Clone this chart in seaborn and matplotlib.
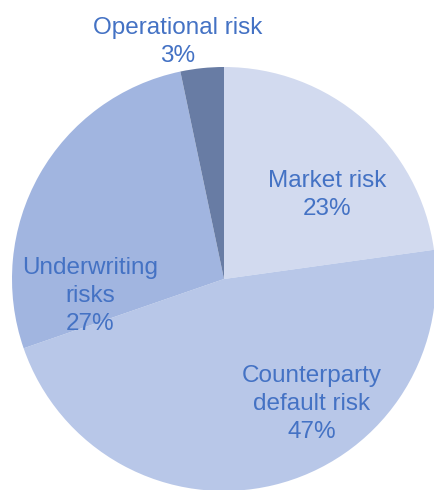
import matplotlib
matplotlib.use("Agg")
import matplotlib.pyplot as plt
import seaborn as sns

# Data
categories = ["Market risk", "Counterparty\ndefault risk", "Underwriting\nrisks", "Operational risk"]
shares = [22.8, 46.9, 27.0, 3.3]
share_labels = ["23%", "47%", "27%", "3%"]
colors = ["#D2DAEF", "#B8C7E8", "#A1B5E0", "#687CA4"]

sns.set_style("white")
plt.rcParams['font.family'] = ['Liberation Sans', 'DejaVu Sans']

W, H = 434, 490
fig = plt.figure(figsize=(W / 100, H / 100), dpi=100)
ax = fig.add_axes([0, 0, 1, 1])

cx, cy, r = 224, 279, 212
pal = sns.color_palette(colors)
wedges, _ = ax.pie(shares, colors=pal, startangle=90, counterclock=False,
                   radius=1, wedgeprops=dict(linewidth=0))
ax.set_xlim(-cx / r, (W - cx) / r)
ax.set_ylim(-(H - cy) / r, cy / r)
ax.set_aspect('auto')
ax.axis('off')

label_pos = [(0.488, 0.398), (0.415, -0.59), (-0.632, -0.081), (-0.219, 1.117)]
for name, lab, (x, y) in zip(categories, share_labels, label_pos):
    ax.text(x, y, f"{name}\n{lab}", ha='center', va='center', fontsize=17.5,
            color="#4472C4", linespacing=1.35)

fig.savefig("out.png", dpi=100)
